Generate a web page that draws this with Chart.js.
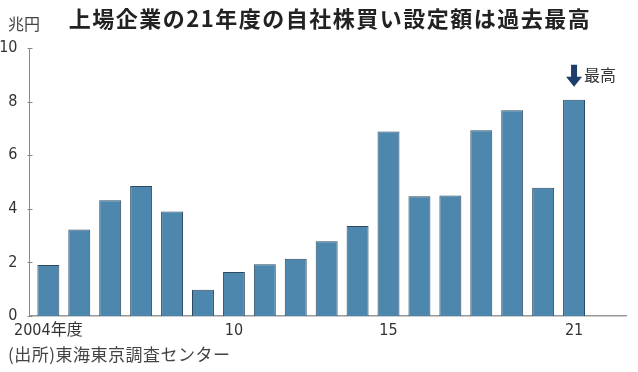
<!DOCTYPE html>
<html>
<head>
<meta charset="utf-8">
<script src="https://cdn.jsdelivr.net/npm/chart.js@4"></script>
<style>
  body { margin: 0; background: #fff; }
  #wrap { position: relative; width: 638px; height: 372px; }
  #title {
    position: absolute; left: 0; width: 660px; top: 1px; text-align: center;
    font: bold 22px "Noto Sans CJK JP", sans-serif; color: #222; letter-spacing: 1.5px;
  }
  #unit { position: absolute; left: 8px; top: 11px; font: 16px "Noto Sans CJK JP", sans-serif; color: #444; }
  #source { position: absolute; left: 8px; top: 341px; font: 17px "Noto Sans CJK JP", sans-serif; color: #444; letter-spacing: 0.5px; }
  canvas { position: absolute; left: 0; top: 0; }
</style>
</head>
<body>
<div id="wrap">
  <canvas id="chart" width="638" height="372"></canvas>
  <div id="title">上場企業の21年度の自社株買い設定額は過去最高</div>
  <div id="unit">兆円</div>
  <div id="source">(出所)東海東京調査センター</div>
</div>
<script>
// Fiscal years and buyback amounts (trillion yen)
const years = [2004, 2005, 2006, 2007, 2008, 2009, 2010, 2011, 2012, 2013, 2014, 2015, 2016, 2017, 2018, 2019, 2020, 2021];
const amounts = [1.90, 3.23, 4.32, 4.85, 3.90, 0.98, 1.64, 1.93, 2.14, 2.79, 3.36, 6.88, 4.47, 4.50, 6.93, 7.68, 4.79, 8.07];
const xTickValues = [2004, 2010, 2015, 2021];
const xTickLabels = ['2004年度', '10', '15', '21'];
const yTickValues = [0, 2, 4, 6, 8, 10];
const peakYear = 2021;
const peakLabel = '最高';

const tickFont = { family: '"DejaVu Sans Condensed", "Noto Sans CJK JP", sans-serif', size: 16 };

// Small tick marks across the y axis line
const yAxisTicks = {
    id: 'yAxisTicks',
    afterDraw(chart) {
        const ctx = chart.ctx;
        const y = chart.scales.y;
        const x0 = chart.chartArea.left;
        ctx.save();
        ctx.strokeStyle = '#888';
        ctx.lineWidth = 1;
        yTickValues.forEach(v => {
            const py = Math.round(y.getPixelForValue(v)) + 0.5;
            ctx.beginPath();
            ctx.moveTo(x0 - 2, py);
            ctx.lineTo(x0 + 3, py);
            ctx.stroke();
        });
        ctx.restore();
    }
};

// Down arrow with label above the record bar
const peakMarker = {
    id: 'peakMarker',
    afterDatasetsDraw(chart) {
        const ctx = chart.ctx;
        const i = years.indexOf(peakYear);
        const px = chart.scales.x.getPixelForValue(peakYear);
        const top = chart.scales.y.getPixelForValue(amounts[i]);
        const tip = top - 13;
        ctx.save();
        ctx.fillStyle = '#1d3d6b';
        ctx.beginPath();
        ctx.moveTo(px - 3, tip - 22);
        ctx.lineTo(px + 3, tip - 22);
        ctx.lineTo(px + 3, tip - 10);
        ctx.lineTo(px + 8, tip - 10);
        ctx.lineTo(px, tip);
        ctx.lineTo(px - 8, tip - 10);
        ctx.lineTo(px - 3, tip - 10);
        ctx.closePath();
        ctx.fill();
        ctx.fillStyle = '#333';
        ctx.font = '16px "Noto Sans CJK JP", sans-serif';
        ctx.textBaseline = 'middle';
        ctx.fillText(peakLabel, px + 10, tip - 12);
        ctx.restore();
    }
};

new Chart(document.getElementById('chart'), {
    type: 'bar',
    data: {
        datasets: [{
            data: years.map((yr, i) => ({ x: yr, y: amounts[i] })),
            backgroundColor: '#4d87ae',
            borderColor: '#2c4a62',
            borderWidth: 1,
            barPercentage: 0.71,
            categoryPercentage: 1
        }]
    },
    options: {
        responsive: false,
        animation: false,
        layout: { padding: { top: 48, right: 12, left: 0, bottom: 0 } },
        plugins: { legend: { display: false }, tooltip: { enabled: false } },
        scales: {
            x: {
                type: 'linear',
                offset: false,
                min: 2003.39,
                max: 2022.68,
                afterFit(scale) { scale.height = 56; },
                afterBuildTicks(scale) { scale.ticks = xTickValues.map(v => ({ value: v })); },
                grid: { display: false },
                border: { display: true, color: '#999', width: 1.5 },
                ticks: {
                    font: tickFont,
                    color: '#333',
                    padding: -3,
                    maxRotation: 0,
                    autoSkip: false,
                    callback: v => xTickLabels[xTickValues.indexOf(v)]
                }
            },
            y: {
                min: 0,
                max: 10,
                afterFit(scale) { scale.width = 29.5; },
                afterBuildTicks(scale) { scale.ticks = yTickValues.map(v => ({ value: v })); },
                grid: { display: false },
                border: { display: true, color: '#888', width: 1 },
                ticks: { font: tickFont, color: '#333', padding: 4 }
            }
        }
    },
    plugins: [yAxisTicks, peakMarker]
});
</script>
</body>
</html>
